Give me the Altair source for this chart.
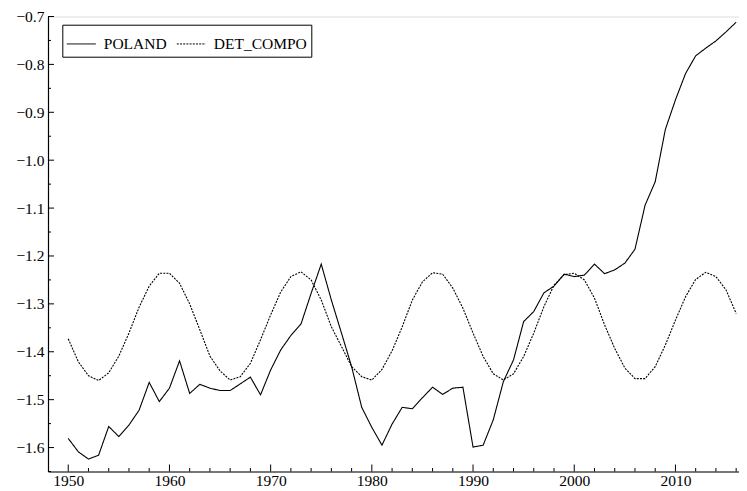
import altair as alt
import pandas as pd

years = list(range(1950, 2017))

poland = [
    -1.581, -1.609, -1.624, -1.616, -1.556, -1.577, -1.553, -1.522, -1.464, -1.504,
    -1.476, -1.419, -1.487, -1.468, -1.476, -1.481, -1.481, -1.467, -1.453, -1.490,
    -1.438, -1.396, -1.366, -1.342, -1.278, -1.217, -1.292, -1.361, -1.431, -1.516,
    -1.558, -1.595, -1.551, -1.516, -1.519, -1.496, -1.474, -1.489, -1.476, -1.474,
    -1.599, -1.595, -1.542, -1.462, -1.417, -1.337, -1.316, -1.277, -1.263, -1.238,
    -1.243, -1.240, -1.217, -1.237, -1.229, -1.215, -1.186, -1.094, -1.045, -0.936,
    -0.874, -0.819, -0.782, -0.766, -0.751, -0.732, -0.712,
]

det_compo = [
    -1.373, -1.421, -1.450, -1.460, -1.444, -1.409, -1.361, -1.307, -1.263, -1.236,
    -1.236, -1.257, -1.300, -1.354, -1.409, -1.440, -1.459, -1.452, -1.424, -1.375,
    -1.323, -1.275, -1.243, -1.233, -1.250, -1.292, -1.348, -1.389, -1.431, -1.452,
    -1.459, -1.437, -1.398, -1.348, -1.292, -1.254, -1.235, -1.238, -1.267, -1.309,
    -1.361, -1.410, -1.446, -1.459, -1.446, -1.410, -1.361, -1.306, -1.261, -1.239,
    -1.236, -1.250, -1.288, -1.344, -1.393, -1.434, -1.456, -1.456, -1.431, -1.386,
    -1.334, -1.285, -1.249, -1.234, -1.243, -1.271, -1.320,
]

series_names = ["POLAND", "DET_COMPO"]
x_major = [1950, 1960, 1970, 1980, 1990, 2000, 2010]
x_minor = [y for y in range(1952, 2017, 2) if y % 10 != 0]
y_major = [-1.6, -1.5, -1.4, -1.3, -1.2, -1.1, -1.0, -0.9, -0.8, -0.7]
y_minor = [-1.65, -1.55, -1.45, -1.35, -1.25, -1.15, -1.05, -0.95, -0.85, -0.75]

X_DOMAIN = [1948, 2016.28]
Y_DOMAIN = [-1.65, -0.7]
W, H = 691, 455
FONT = "Liberation Serif, Times New Roman, Times, serif"

df = pd.DataFrame(
    {
        "year": years * 2,
        "value": poland + det_compo,
        "series": ["POLAND"] * len(years) + ["DET_COMPO"] * len(years),
    }
)

xs = alt.Scale(domain=X_DOMAIN, nice=False, zero=False)
ys = alt.Scale(domain=Y_DOMAIN, nice=False, zero=False)

lines = (
    alt.Chart(df)
    .mark_line(color="black", strokeWidth=1.1, clip=True)
    .encode(
        x=alt.X(
            "year:Q",
            scale=xs,
            axis=alt.Axis(
                values=x_major,
                format="d",
                ticks=False,
                grid=False,
                title=None,
                labelPadding=2,
                domainColor="black",
                domainWidth=1.2,
                labelFont=FONT,
                labelFontSize=15.5,
                labelColor="black",
            ),
        ),
        y=alt.Y(
            "value:Q",
            scale=ys,
            axis=alt.Axis(
                values=y_major,
                format=".1f",
                ticks=False,
                grid=False,
                title=None,
                labelPadding=4,
                domainColor="black",
                domainWidth=1.2,
                labelFont=FONT,
                labelFontSize=15.5,
                labelColor="black",
            ),
        ),
        strokeDash=alt.StrokeDash(
            "series:N",
            scale=alt.Scale(domain=series_names, range=[[1, 0], [2, 1.2]]),
            sort=series_names,
            legend=alt.Legend(
                title=None,
                orient="none",
                legendX=14.3,
                legendY=8.2,
                direction="horizontal",
                columns=2,
                symbolType="stroke",
                symbolStrokeColor="black",
                symbolStrokeWidth=1,
                symbolSize=841,
                labelFont=FONT,
                labelFontSize=15.5,
                labelColor="black",
                labelOffset=7.5,
                columnPadding=7,
                padding=4,
                strokeColor="black",
                fillColor="white",
            ),
        ),
    )
)

xmaj_df = pd.DataFrame({"year": x_major})
xmin_df = pd.DataFrame({"year": x_minor})
ymaj_df = pd.DataFrame({"v": y_major})
ymin_df = pd.DataFrame({"v": y_minor})

xt_major = alt.Chart(xmaj_df).mark_rule(color="black", strokeWidth=1).encode(
    x=alt.X("year:Q", scale=xs), y=alt.value(H), y2=alt.value(H - 7)
)
xt_minor = alt.Chart(xmin_df).mark_rule(color="black", strokeWidth=1).encode(
    x=alt.X("year:Q", scale=xs), y=alt.value(H), y2=alt.value(H - 3.5)
)
yt_major = alt.Chart(ymaj_df).mark_rule(color="black", strokeWidth=1).encode(
    y=alt.Y("v:Q", scale=ys), x=alt.value(0), x2=alt.value(6)
)
yt_minor = alt.Chart(ymin_df).mark_rule(color="black", strokeWidth=1).encode(
    y=alt.Y("v:Q", scale=ys), x=alt.value(0), x2=alt.value(3)
)

chart = (
    alt.layer(lines, xt_major, xt_minor, yt_major, yt_minor)
    .properties(
        width=W,
        height=H,
        autosize=alt.AutoSizeParams(type="none"),
        padding={"left": 40, "top": 8.5, "right": 0, "bottom": 19},
    )
    .configure_view(stroke=None)
    .configure(font=FONT)
)

chart.save("out.html", embed_options={"renderer": "svg", "actions": False})
